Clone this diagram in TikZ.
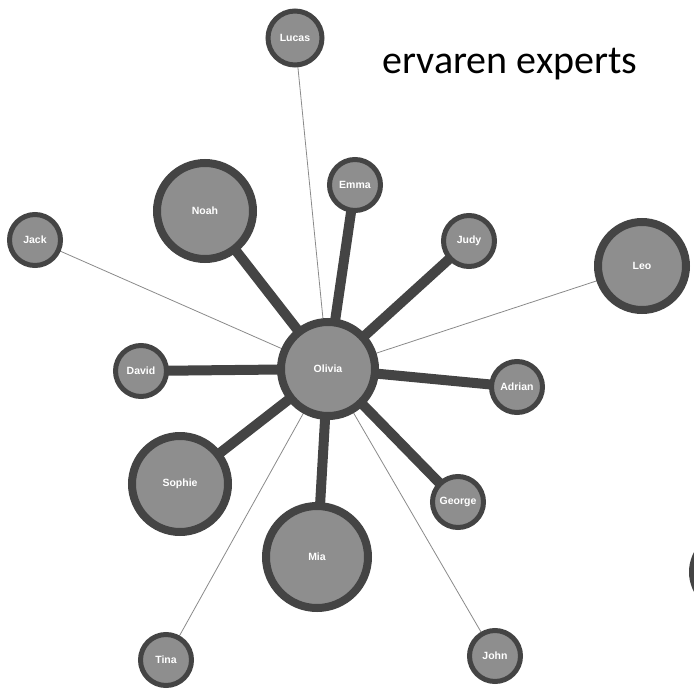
\documentclass[tikz,border=0pt]{standalone}
\usepackage{fontspec}
\setmainfont{Liberation Sans}
\newfontfamily\titlefont{Carlito}
\usetikzlibrary{backgrounds}

\definecolor{ringgrey}{HTML}{444444}
\definecolor{fillgrey}{HTML}{8E8E8E}
\definecolor{linegrey}{HTML}{8A8A8A}

\begin{document}
\begin{tikzpicture}[x=1pt,y=-1pt,
  person/.style={circle, draw=ringgrey, fill=fillgrey, line width=5pt, minimum size=51pt, inner sep=0pt,
    text=white, font=\fontsize{10.5}{11}\selectfont\bfseries},
  bigperson/.style={person, line width=8pt, minimum size=96pt},
  strong/.style={ringgrey, line width=10pt},
  weak/.style={linegrey, line width=0.8pt}]

\useasboundingbox (0,0) rectangle (694,691);
\clip (0,0) rectangle (694,691);

% people
\node[bigperson, minimum size=94pt] (olivia) at (328,369) {Olivia};
\node[person, minimum size=54pt] (lucas) at (295,38) {Lucas};
\node[person] (emma) at (355,185) {Emma};
\node[bigperson] (noah) at (205,211) {Noah};
\node[person] (jack) at (35,240) {Jack};
\node[person] (judy) at (469,241) {Judy};
\node[bigperson, minimum size=88pt] (leo) at (642,266) {Leo};
\node[person] (david) at (141,371) {David};
\node[person] (adrian) at (517,387) {Adrian};
\node[bigperson] (sophie) at (180,484) {Sophie};
\node[person] (george) at (458,502) {George};
\node[bigperson, minimum size=102pt] (mia) at (317,557) {Mia};
\node[person] (tina) at (166,660) {Tina};
\node[person] (john) at (495,656) {John};
\node[bigperson, minimum size=76pt] (rand) at (731,572) {};

% screenshot patch
\fill[white] (680,298) rectangle (694,322);

\node[anchor=west, font=\titlefont\fontsize{40}{42}\selectfont] (title) at (379,64) {ervaren experts};

% links
\begin{scope}[on background layer]
\draw[strong] (olivia.center) -- (noah.center);
\draw[strong] (olivia.center) -- (emma.center);
\draw[strong] (olivia.center) -- (judy.center);
\draw[strong] (olivia.center) -- (david.center);
\draw[strong] (olivia.center) -- (adrian.center);
\draw[strong] (olivia.center) -- (sophie.center);
\draw[strong] (olivia.center) -- (mia.center);
\draw[strong] (olivia.center) -- (george.center);

\draw[weak] (olivia.center) -- (lucas.center);
\draw[weak] (olivia.center) -- (jack.center);
\draw[weak] (olivia.center) -- (leo.center);
\draw[weak] (olivia.center) -- (tina.center);
\draw[weak] (olivia.center) -- (john.center);
\end{scope}

\end{tikzpicture}
\end{document}
